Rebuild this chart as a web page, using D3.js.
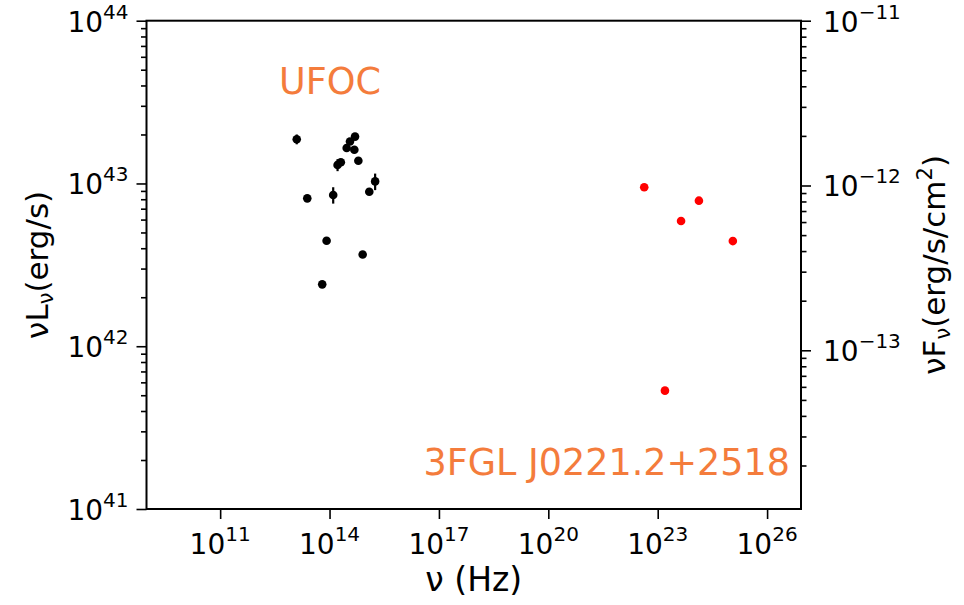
<!DOCTYPE html>
<html>
<head>
<meta charset="utf-8">
<script src="https://cdn.jsdelivr.net/npm/d3@7"></script>
<style>
  html, body { margin: 0; padding: 0; background: #fff; }
  svg { display: block; font-family: "DejaVu Sans", sans-serif; }
</style>
</head>
<body>
<svg id="chart" width="964" height="605"></svg>
<script>
// ---------------- data ----------------
// UFOC (optical / IR) points: frequency (Hz) and nuL_nu (erg/s), left axis
const ufocNu = [1.26e13, 2.45e13, 6.3e13, 8.3e13, 1.26e14, 1.66e14, 2.04e14, 2.95e14,
                3.63e14, 4.79e14, 5.0e14, 6.17e14, 8.1e14, 1.23e15, 1.78e15];
const ufocL  = [1.87e43, 8.1e42, 2.4e42, 4.45e42, 8.5e42, 1.30e43, 1.35e43, 1.65e43,
                1.81e43, 1.61e43, 1.94e43, 1.38e43, 3.66e42, 8.9e42, 1.03e43];
const ufocErr = [0.13e43, 0, 0, 0, 0.98e42, 0.11e43, 0, 0,
                 0, 0, 0, 0, 0, 0, 0.12e43];

// 3FGL J0221.2+2518 (gamma-ray) points: frequency (Hz) and nuF_nu (erg/s/cm^2), right axis
const fermiNu = [4.27e22, 1.58e23, 4.37e23, 1.35e24, 1.15e25];
const fermiF  = [9.75e-13, 5.69e-14, 6.09e-13, 8.09e-13, 4.6e-13];

// axis ticks
const xTickExp = [11, 14, 17, 20, 23, 26];
const yLeftTickExp = [41, 42, 43, 44];
const yRightTickExp = [-13, -12, -11];

// ---------------- layout ----------------
const svg = d3.select("#chart");
const L = 146.5, R = 801, T = 20.7, B = 509;

const x = d3.scaleLog().domain([Math.pow(10, 8.98), Math.pow(10, 26.93)]).range([L, R]);
const yL = d3.scaleLog().domain([1e41, 1e44]).range([B, T]);
const yR = d3.scaleLog().domain([Math.pow(10, -13.963), 1e-11]).range([B, T]);

const tickFont = 28, supFont = 20, titleFont = 31;

function minorTicks(scale) {
  const [a, b] = scale.domain();
  const lo = Math.floor(Math.log10(a)), hi = Math.ceil(Math.log10(b));
  const out = [];
  for (let e = lo; e < hi; e++) {
    for (let m = 2; m <= 9; m++) {
      const v = m * Math.pow(10, e);
      if (v >= a * 0.999 && v <= b * 1.001) out.push(v);
    }
  }
  return out;
}

// x axis (bottom) - majors only
const xAxis = d3.axisBottom(x).tickValues(xTickExp.map(e => Math.pow(10, e)))
  .tickSize(10).tickPadding(6).tickFormat("");
const gx = svg.append("g").attr("transform", `translate(0,${B})`).call(xAxis);

// left y axis
const yLAxis = d3.axisLeft(yL).tickValues(yLeftTickExp.map(e => Math.pow(10, e)))
  .tickSize(10).tickFormat("");
const gyl = svg.append("g").attr("transform", `translate(${L},0)`).call(yLAxis);
const yLMinor = d3.axisLeft(yL).tickValues(minorTicks(yL)).tickSize(5.5).tickFormat("");
const gylm = svg.append("g").attr("transform", `translate(${L},0)`).call(yLMinor);

// right y axis
const yRAxis = d3.axisRight(yR).tickValues(yRightTickExp.map(e => Math.pow(10, e)))
  .tickSize(10).tickFormat("");
const gyr = svg.append("g").attr("transform", `translate(${R},0)`).call(yRAxis);
const yRMinor = d3.axisRight(yR).tickValues(minorTicks(yR)).tickSize(5.5).tickFormat("");
const gyrm = svg.append("g").attr("transform", `translate(${R},0)`).call(yRMinor);

[gx, gyl, gylm, gyr, gyrm].forEach(g => {
  g.select(".domain").remove();
  g.selectAll(".tick line").attr("stroke", "#000").attr("stroke-width", 1.6);
});

// frame
svg.append("rect").attr("x", L).attr("y", T).attr("width", R - L).attr("height", B - T)
  .attr("fill", "none").attr("stroke", "#000").attr("stroke-width", 2);

// tick labels with superscripts
function powLabel(g, e) {
  g.append("tspan").text("10");
  g.append("tspan").attr("dy", -13).attr("font-size", supFont)
    .text(e < 0 ? "\u2212" + Math.abs(e) : String(e));
}
xTickExp.forEach(e => {
  const t = svg.append("text").attr("x", x(Math.pow(10, e))).attr("y", B + 45)
    .attr("font-size", tickFont).attr("text-anchor", "middle").attr("fill", "#000");
  powLabel(t, e);
});
yLeftTickExp.forEach(e => {
  const t = svg.append("text").attr("x", L - 18).attr("y", yL(Math.pow(10, e)) + 11)
    .attr("font-size", tickFont).attr("text-anchor", "end").attr("fill", "#000");
  powLabel(t, e);
});
yRightTickExp.forEach(e => {
  const t = svg.append("text").attr("x", R + 22).attr("y", yR(Math.pow(10, e)) + 11)
    .attr("font-size", tickFont).attr("text-anchor", "start").attr("fill", "#000");
  powLabel(t, e);
});

// axis titles
svg.append("text").attr("x", (L + R) / 2).attr("y", 591).attr("font-size", 33)
  .attr("text-anchor", "middle").text("\u03bd (Hz)");

const lt = svg.append("text").attr("transform", `translate(48,${(T + B) / 2}) rotate(-90)`)
  .attr("font-size", titleFont).attr("text-anchor", "middle");
lt.append("tspan").text("\u03bdL");
lt.append("tspan").attr("font-size", 21).attr("dy", 5).text("\u03bd");
lt.append("tspan").attr("dy", -5).text("(erg/s)");

const rt = svg.append("text").attr("transform", `translate(945,${(T + B) / 2}) rotate(-90)`)
  .attr("font-size", titleFont).attr("text-anchor", "middle");
rt.append("tspan").text("\u03bdF");
rt.append("tspan").attr("font-size", 21).attr("dy", 5).text("\u03bd");
rt.append("tspan").attr("dy", -5).text("(erg/s/cm");
rt.append("tspan").attr("font-size", 21).attr("dy", -13).text("2");
rt.append("tspan").attr("dy", 13).text(")");

// annotations
const orange = "#f47c3c";
svg.append("text").attr("x", 279).attr("y", 94).attr("font-size", 36.5)
  .attr("fill", orange).text("UFOC");
svg.append("text").attr("x", 790).attr("y", 475).attr("font-size", 36.5)
  .attr("text-anchor", "end").attr("fill", orange).text("3FGL J0221.2+2518");

// error bars
const ufoc = ufocNu.map((nu, i) => ({ nu, L: ufocL[i], err: ufocErr[i] }));
svg.append("g").selectAll("line").data(ufoc.filter(d => d.err > 0)).join("line")
  .attr("x1", d => x(d.nu)).attr("x2", d => x(d.nu))
  .attr("y1", d => yL(d.L - d.err)).attr("y2", d => yL(d.L + d.err))
  .attr("stroke", "#000").attr("stroke-width", 2.2);

// points
svg.append("g").selectAll("circle").data(ufoc).join("circle")
  .attr("cx", d => x(d.nu)).attr("cy", d => yL(d.L)).attr("r", 4.3).attr("fill", "#000");

const fermi = fermiNu.map((nu, i) => ({ nu, F: fermiF[i] }));
svg.append("g").selectAll("circle").data(fermi).join("circle")
  .attr("cx", d => x(d.nu)).attr("cy", d => yR(d.F)).attr("r", 4.3).attr("fill", "#ff0000");
</script>
</body>
</html>
